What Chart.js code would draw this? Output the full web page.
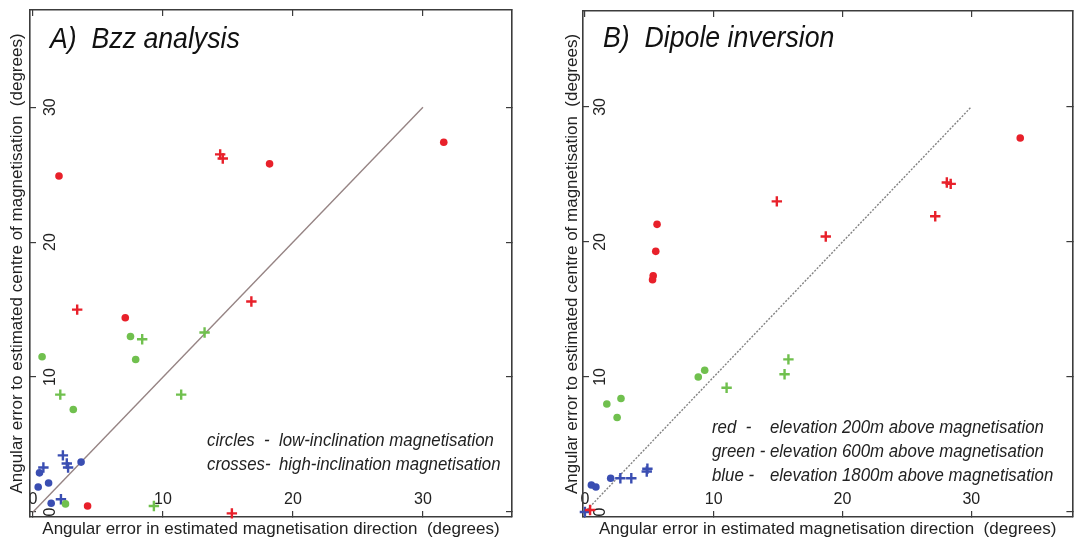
<!DOCTYPE html>
<html>
<head>
<meta charset="utf-8">
<script src="https://cdn.jsdelivr.net/npm/chart.js@4/dist/chart.umd.min.js"></script>
<style>
  body { margin: 0; background: #fff; }
  #wrap { position: relative; width: 1080px; height: 543px; }
  #wrap canvas { position: absolute; top: 0; }
</style>
</head>
<body>
<div id="wrap">
  <canvas id="chartA" width="540" height="543" style="left:0"></canvas>
  <canvas id="chartB" width="540" height="543" style="left:540px"></canvas>
</div>
<script>
// values, [x, y] in degrees
// A) Bzz analysis
const bzzRedCircles   = [[2.0, 24.9], [18.2, 25.8], [31.6, 27.4], [7.1, 14.4], [4.2, 0.45]];
const bzzRedCrosses   = [[14.4, 26.5], [14.6, 26.2], [3.4, 15.0], [16.8, 15.6], [15.3, -0.1]];
const bzzGreenCircles = [[7.5, 13.0], [0.7, 11.5], [7.9, 11.3], [3.1, 7.6], [2.5, 0.6]];
const bzzGreenCrosses = [[8.4, 12.8], [13.2, 13.3], [2.1, 8.7], [11.4, 8.7], [9.3, 0.45]];
const bzzBlueCircles  = [[0.5, 2.9], [3.7, 3.7], [0.4, 1.85], [1.2, 2.15], [1.4, 0.65]];
const bzzBlueCrosses  = [[2.3, 4.2], [0.8, 3.3], [2.6, 3.6], [2.7, 3.3], [2.15, 0.95]];

// B) Dipole inversion
const dipRedCircles   = [[33.8, 27.7], [5.6, 21.3], [5.5, 19.3], [5.3, 17.5], [5.25, 17.2]];
const dipRedCrosses   = [[28.1, 24.4], [28.4, 24.3], [14.9, 23.0], [27.2, 21.9], [18.7, 20.4], [0.4, 0.15]];
const dipGreenCircles = [[9.3, 10.5], [8.8, 10.0], [2.8, 8.4], [1.7, 8.0], [2.5, 7.0]];
const dipGreenCrosses = [[15.8, 11.3], [15.5, 10.2], [11.0, 9.2]];
const dipBlueCircles  = [[0.5, 2.0], [0.85, 1.85], [2.0, 2.5]];
const dipBlueCrosses  = [[2.75, 2.5], [3.6, 2.5], [4.8, 3.0], [4.85, 3.2], [0.0, 0.0]];

const diagonal = [0, 30];          // 1:1 line from (0,0) to (30,30)
const tickStep = 10;

const xTitle = 'Angular error in estimated magnetisation direction  (degrees)';
const yTitle = 'Angular error to estimated centre of magnetisation  (degrees)';

const RED = 'rgb(232, 32, 42)';
const GREEN = 'rgb(112, 192, 78)';
const BLUE = 'rgb(58, 78, 178)';
const AXIS = 'rgb(60, 60, 60)';
const tickFont = { family: '"Liberation Sans Narrow", "Liberation Sans", Arial, sans-serif', size: 16 };
const titleFont = { family: '"Liberation Sans", Arial, sans-serif', size: 17 };

function pts(list) {
  return list.map(([x, y]) => ({ x, y }));
}

function markers(list, color, style) {
  const cross = style === 'cross';
  return {
    data: pts(list),
    pointStyle: style,
    pointRadius: cross ? 5.2 : 3.8,
    pointHoverRadius: cross ? 5.2 : 3.8,
    pointBorderWidth: cross ? 2.4 : 0,
    pointBackgroundColor: color,
    pointBorderColor: color,
    showLine: false,
    clip: false
  };
}

function diagLine(color, dash) {
  return {
    type: 'line',
    data: diagonal.map(v => ({ x: v, y: v })),
    borderColor: color,
    borderWidth: 1.4,
    borderDash: dash,
    pointRadius: 0,
    order: 10
  };
}

// fix the box size of an axis so the plot frame lands where it is in the figure
function boxSize(px) {
  return function (scale) {
    if (scale.isHorizontal()) scale.height = px; else scale.width = px;
    scale.paddingTop = scale.paddingBottom = scale.paddingLeft = scale.paddingRight = 0;
  };
}

// panel title and the note in the lower right
const panelText = {
  id: 'panelText',
  afterDraw(chart, args, opts) {
    const ctx = chart.ctx;
    ctx.save();
    ctx.fillStyle = '#111';
    ctx.textBaseline = 'alphabetic';
    ctx.font = 'italic 29px "Liberation Sans", Arial, sans-serif';
    ctx.translate(opts.titleAt[0], opts.titleAt[1]);
    ctx.scale(0.92, 1);
    ctx.fillText(opts.title, 0, 0);
    ctx.restore();

    ctx.save();
    ctx.fillStyle = '#222';
    ctx.font = 'italic 19px "Liberation Sans", Arial, sans-serif';
    opts.rows.forEach((row, i) => {
      const y = opts.rowsAt[2] + i * opts.rowGap;
      row.forEach((txt, c) => {
        ctx.save();
        ctx.translate(opts.rowsAt[c], y);
        ctx.scale(0.885, 1);
        ctx.fillText(txt, 0, 0);
        ctx.restore();
      });
    });
    ctx.restore();
  }
};

function makeScales(xMin, xMax, yMin, yMax, yAxisWidth, yTickPad, yTitlePad) {
  const grid = { drawOnChartArea: false, tickLength: -6, color: AXIS, lineWidth: 1.2 };
  const border = { color: AXIS, width: 1.6 };
  return {
    x: {
      type: 'linear', position: 'bottom', min: xMin, max: xMax,
      ticks: { stepSize: tickStep, includeBounds: false, mirror: true, padding: 8,
               maxRotation: 0, autoSkip: false, font: tickFont, color: '#222' },
      grid, border,
      title: { display: true, text: xTitle, font: titleFont, color: '#222', padding: { top: 0, bottom: 3 } },
      afterFit: boxSize(26)
    },
    y: {
      type: 'linear', position: 'left', min: yMin, max: yMax,
      ticks: { stepSize: tickStep, includeBounds: false, mirror: true, padding: yTickPad,
               crossAlign: 'center', minRotation: 90, maxRotation: 90, autoSkip: false,
               font: tickFont, color: '#222' },
      grid, border,
      title: { display: true, text: yTitle, font: titleFont, color: '#222', padding: { top: yTitlePad, bottom: 0 } },
      afterFit: boxSize(yAxisWidth)
    },
    xTop: {
      type: 'linear', position: 'top', min: xMin, max: xMax,
      ticks: { stepSize: tickStep, includeBounds: false, display: false },
      grid, border, afterFit: boxSize(0)
    },
    yRight: {
      type: 'linear', position: 'right', min: yMin, max: yMax,
      ticks: { stepSize: tickStep, includeBounds: false, display: false },
      grid, border, afterFit: boxSize(0)
    }
  };
}

const chartA = new Chart(document.getElementById('chartA'), {
  type: 'scatter',
  data: {
    datasets: [
      diagLine('rgb(150, 132, 132)', []),
      markers(bzzRedCircles, RED, 'circle'),
      markers(bzzRedCrosses, RED, 'cross'),
      markers(bzzGreenCircles, GREEN, 'circle'),
      markers(bzzGreenCrosses, GREEN, 'cross'),
      markers(bzzBlueCircles, BLUE, 'circle'),
      markers(bzzBlueCrosses, BLUE, 'cross')
    ]
  },
  options: {
    responsive: false,
    animation: false,
    events: [],
    layout: { padding: { left: 0, top: 10, right: 28, bottom: 0 } },
    scales: makeScales(-0.23, 36.85, -0.37, 37.2, 30, 12, 7),
    plugins: {
      legend: { display: false },
      tooltip: { enabled: false },
      panelText: {
        title: 'A)  Bzz analysis',
        titleAt: [50, 48],
        rows: [['circles  -', 'low-inclination magnetisation'],
               ['crosses-', 'high-inclination magnetisation']],
        rowsAt: [207, 279, 446],
        rowGap: 24
      }
    }
  },
  plugins: [panelText]
});

const chartB = new Chart(document.getElementById('chartB'), {
  type: 'scatter',
  data: {
    datasets: [
      diagLine('rgb(130, 130, 130)', [2, 1.5]),
      markers(dipRedCircles, RED, 'circle'),
      markers(dipRedCrosses, RED, 'cross'),
      markers(dipGreenCircles, GREEN, 'circle'),
      markers(dipGreenCrosses, GREEN, 'cross'),
      markers(dipBlueCircles, BLUE, 'circle'),
      markers(dipBlueCrosses, BLUE, 'cross')
    ]
  },
  options: {
    responsive: false,
    animation: false,
    events: [],
    layout: { padding: { left: 0, top: 11, right: 3, bottom: 0 } },
    scales: makeScales(-0.15, 37.85, -0.37, 37.1, 43, 9, 22),
    plugins: {
      legend: { display: false },
      tooltip: { enabled: false },
      panelText: {
        title: 'B)  Dipole inversion',
        titleAt: [63, 47],
        rows: [['red  -', 'elevation 200m above magnetisation'],
               ['green -', 'elevation 600m above magnetisation'],
               ['blue -', 'elevation 1800m above magnetisation']],
        rowsAt: [172, 230, 433],
        rowGap: 24
      }
    }
  },
  plugins: [panelText]
});
</script>
</body>
</html>
